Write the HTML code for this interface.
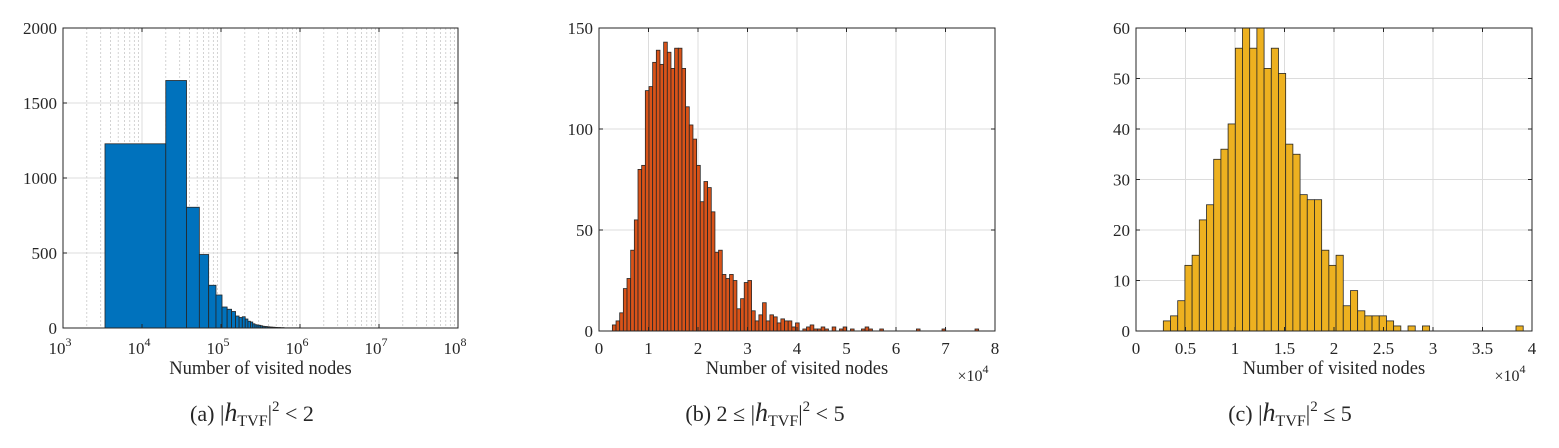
<!DOCTYPE html>
<html><head><meta charset="utf-8"><style>
body{margin:0;background:#fff;}
svg{display:block;font-family:"Liberation Serif",serif;}
</style></head><body>
<svg id="s" width="1559" height="448" viewBox="0 0 1559 448" xmlns="http://www.w3.org/2000/svg"></svg>
<script>
// Chart (a): log-x histogram, bins of equal linear width
const aBinStart = 3400;
const aBinWidth = 16600;
const aCounts = [1228,1650,805,490,285,220,140,125,110,80,70,75,60,45,40,28,22,20,18,15,12,10,10,8,8,6,6,5,5,4,4,3,3,3,2,2,2,2,1,1,1,1,1,1,1,1,1,1,1,1,1,1,1,1,1,1,1,1,1,1];
const aYTicks = [0,500,1000,1500,2000];
const aXTickExp = [3,4,5,6,7,8];
// Chart (b)
const bBinStart = 2700;
const bBinWidth = 740;
const bCounts = [3,5,9,21,26,40,55,80,82,119,121,133,139,132,143,138,130,140,140,130,111,102,95,82,64,74,71,59,39,40,28,26,28,25,11,16,24,25,10,5,8,14,5,8,7,4,6,5,5,2,4,0,1,2,3,1,1,2,1,0,2,0,1,2,0,1,0,0,1,2,1,0,0,1,0,0,0,0,0,0,0,0,0,1,0,0,0,0,0,0,1,0,0,0,0,0,0,0,0,1];
const bYTicks = [0,50,100,150];
const bXTicks = [0,1,2,3,4,5,6,7,8];
// Chart (c)
const cBinStart = 2760;
const cBinWidth = 727;
const cCounts = [2,3,6,13,15,22,25,34,36,41,56,60,56,60,52,56,51,37,35,27,26,26,16,13,15,5,8,4,3,3,3,2,1,0,1,0,1,0,0,0,0,0,0,0,0,0,0,0,0,1];
const cYTicks = [0,10,20,30,40,50,60];
const cXTicks = [0,0.5,1,1.5,2,2.5,3,3.5,4];

const S = document.getElementById('s');
const NS = 'http://www.w3.org/2000/svg';
function mk(tag, attrs, parent){
  const e = document.createElementNS(NS, tag);
  for (const k in attrs) e.setAttribute(k, attrs[k]);
  (parent||S).appendChild(e);
  return e;
}
function txt(x,y,str,anchor,size,parent){
  const t = mk('text',{x:x,y:y,'text-anchor':anchor||'middle','font-size':size||15,fill:'#262626'},parent);
  t.textContent = str;
  return t;
}

function panel(cfg){
  const g = mk('g',{});
  
  
  const L=cfg.L,R=cfg.R,T=cfg.T,B=cfg.B;
  const xs = cfg.xs, ys = v => B - (v - 0) / cfg.yMax * (B - T);
  const grid = mk('g',{},g);
  
  
  if (cfg.minorX) cfg.minorX.forEach(v=>{
    const x = xs(v);
    mk('line',{x1:x,x2:x,y1:T,y2:B,stroke:'#c8c8c8','stroke-width':0.8,'stroke-dasharray':'2,2'},grid);
  });
  cfg.xTicks.forEach(v=>{ const x=xs(v); mk('line',{x1:x,x2:x,y1:T,y2:B,stroke:'#dcdcdc','stroke-width':1},grid);});
  cfg.yTicks.forEach(v=>{ const y=ys(v); mk('line',{x1:L,x2:R,y1:y,y2:y,stroke:'#dcdcdc','stroke-width':1},grid);});
  const bars = mk('g',{},g);
  
  
  cfg.counts.forEach((c,i)=>{
    if (c<=0) return;
    const x0 = xs(cfg.start + i*cfg.width), x1 = xs(cfg.start + (i+1)*cfg.width);
    const r = mk('rect',{x:x0,y:ys(c),width:Math.max(0.5,x1-x0),height:B-ys(c),fill:cfg.color,stroke:'#262626','stroke-width':0.8},bars);
    
    
  });
  mk('rect',{x:L,y:T,width:R-L,height:B-T,fill:'none',stroke:'#262626','stroke-width':1},g);
  cfg.xTicks.forEach(v=>{ const x=xs(v);
    mk('line',{x1:x,x2:x,y1:B,y2:B-4,stroke:'#262626'},g);
    mk('line',{x1:x,x2:x,y1:T,y2:T+4,stroke:'#262626'},g);});
  cfg.yTicks.forEach(v=>{ const y=ys(v);
    mk('line',{x1:L,x2:L+4,y1:y,y2:y,stroke:'#262626'},g);
    mk('line',{x1:R,x2:R-4,y1:y,y2:y,stroke:'#262626'},g);});
  const yl = mk('g',{},g);
  
  
  cfg.yTicks.forEach(v=>txt(L-6, ys(v)+6, String(v), 'end', 17, yl));
  const xl = mk('g',{},g);
  
  
  cfg.xLabel(xl, xs);
  const at = txt((L+R)/2, 374, 'Number of visited nodes', 'middle', 18.5, g);
  
  
  return g;
}

// (a)
const aL=63,aR=458;
const aX = v => aL + (Math.log10(v)-3)/5*(aR-aL);
const aMinor=[]; for(let e=3;e<8;e++) for(let m=2;m<10;m++) aMinor.push(m*Math.pow(10,e));
panel({name:'chart-a',L:aL,R:aR,T:28,B:328,yMax:2000,xs:aX,minorX:aMinor,
  xTicks:aXTickExp.map(e=>Math.pow(10,e)),yTicks:aYTicks,counts:aCounts,start:aBinStart,width:aBinWidth,color:'#0072BD',
  xLabel:(p,xs)=>aXTickExp.forEach(e=>{
    const x=xs(Math.pow(10,e));
    const t=txt(x-3,354,'10','middle',17,p);
    const s=mk('tspan',{dy:-8,'font-size':12},t); s.textContent=String(e);
  })});
// (b)
const bL=599,bR=995;
const bX = v => bL + v/80000*(bR-bL);
panel({name:'chart-b',L:bL,R:bR,T:28,B:331,yMax:150,xs:bX,
  xTicks:bXTicks.map(v=>v*1e4),yTicks:bYTicks,counts:bCounts,start:bBinStart,width:bBinWidth,color:'#D95319',
  xLabel:(p,xs)=>bXTicks.forEach(v=>txt(xs(v*1e4),354,String(v),'middle',17,p))});
// (c)
const cL=1136,cR=1532;
const cX = v => cL + v/40000*(cR-cL);
panel({name:'chart-c',L:cL,R:cR,T:28,B:331,yMax:60,xs:cX,
  xTicks:cXTicks.map(v=>v*1e4),yTicks:cYTicks,counts:cCounts,start:cBinStart,width:cBinWidth,color:'#EDB120',
  xLabel:(p,xs)=>cXTicks.forEach(v=>txt(xs(v*1e4),354,String(v),'middle',17,p))});

[[973,'chart-b-exponent'],[1510,'chart-c-exponent']].forEach(([x,n])=>{
  const t=txt(x,381,'×10','middle',16);
  
  
  const s=mk('tspan',{dy:-8,'font-size':12},t); s.textContent='4';
});

function caption(x,label,pre,post,name){
  const t=mk('text',{x:x,y:421,'text-anchor':'middle','font-size':22,fill:'#262626'});
  
  
  const parts=[[label+' '+pre+'|',{}],['h',{'font-style':'italic','font-size':26}],['TVF',{'font-size':16,dy:5}],['|',{dy:-5}],['2',{'font-size':15,dy:-10}],[' '+post,{dy:10}]];
  parts.forEach(([s,a])=>{const sp=mk('tspan',a,t); sp.textContent=s;});
}
caption(252,'(a)','','< 2','caption-a');
caption(765,'(b)','2 ≤ ','< 5','caption-b');
caption(1290,'(c)','','≤ 5','caption-c');
</script>
</body></html>
